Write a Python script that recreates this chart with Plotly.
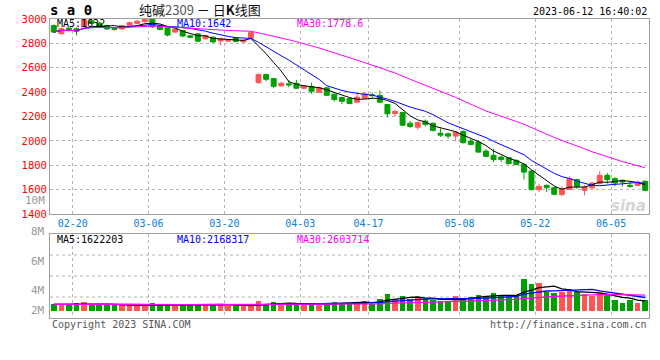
import plotly.graph_objects as go
import pandas as pd

# ---------------- data ----------------
dates = ["02-16", "02-17", "02-20", "02-21", "02-22", "02-23", "02-24", "02-27", "02-28",
         "03-01", "03-02", "03-03", "03-06", "03-07", "03-08", "03-09", "03-10",
         "03-13", "03-14", "03-15", "03-16", "03-17", "03-20", "03-21", "03-22", "03-23", "03-24",
         "03-27", "03-28", "03-29", "03-30", "03-31", "04-03", "04-04", "04-06", "04-07",
         "04-10", "04-11", "04-12", "04-13", "04-14", "04-17", "04-18", "04-19", "04-20", "04-21",
         "04-24", "04-25", "04-26", "04-27", "04-28", "05-04", "05-05",
         "05-08", "05-09", "05-10", "05-11", "05-12", "05-15", "05-16", "05-17", "05-18", "05-19",
         "05-22", "05-23", "05-24", "05-25", "05-26", "05-29", "05-30", "05-31", "06-01", "06-02",
         "06-05", "06-06", "06-07", "06-08", "06-09", "06-12"]

opens = [2946, 2880, 2925, 2920, 2935, 2985, 2968, 2945, 2925, 2918, 2945, 2965, 2978, 2998, 2945, 2928,
         2893, 2906, 2862, 2878, 2838, 2851, 2820, 2818, 2848, 2812, 2842, 2478, 2544, 2511, 2451, 2468,
         2473, 2432, 2446, 2399, 2435, 2383, 2356, 2347, 2317, 2350, 2378, 2372, 2298, 2225, 2233, 2145,
         2112, 2162, 2145, 2063, 2058, 2039, 2077, 1998, 1990, 1916, 1881, 1867, 1862, 1840, 1807, 1752,
         1600, 1635, 1616, 1559, 1602, 1682, 1594, 1616, 1649, 1717, 1690, 1676, 1635, 1635, 1668]
highs = [2955, 2928, 2933, 2932, 3000, 3012, 2975, 2950, 2932, 2952, 2978, 2990, 3006, 3004, 2952, 2932,
         2925, 2912, 2868, 2882, 2870, 2856, 2846, 2836, 2852, 2832, 2896, 2554, 2552, 2515, 2484, 2500,
         2500, 2454, 2478, 2446, 2440, 2388, 2360, 2356, 2386, 2402, 2397, 2413, 2302, 2257, 2238, 2162,
         2159, 2175, 2150, 2102, 2069, 2077, 2085, 2017, 2004, 1930, 1936, 1881, 1868, 1848, 1815, 1762,
         1649, 1643, 1623, 1627, 1709, 1690, 1635, 1662, 1752, 1736, 1701, 1684, 1668, 1674, 1676]
lows = [2885, 2870, 2897, 2865, 2928, 2958, 2925, 2912, 2905, 2912, 2938, 2958, 2972, 2928, 2906, 2858,
        2885, 2850, 2842, 2810, 2830, 2805, 2785, 2810, 2808, 2806, 2836, 2468, 2489, 2432, 2448, 2440,
        2427, 2423, 2386, 2396, 2369, 2323, 2301, 2301, 2315, 2345, 2353, 2315, 2194, 2200, 2121, 2107,
        2094, 2118, 2077, 2031, 2017, 1998, 1979, 1963, 1901, 1864, 1826, 1826, 1807, 1799, 1684, 1594,
        1580, 1580, 1553, 1548, 1598, 1608, 1553, 1600, 1643, 1649, 1627, 1627, 1616, 1627, 1588]
closes = [2893, 2920, 2905, 2900, 2995, 2965, 2935, 2918, 2915, 2945, 2970, 2982, 2995, 2935, 2915, 2868,
          2918, 2860, 2850, 2818, 2864, 2812, 2838, 2830, 2815, 2826, 2890, 2544, 2505, 2448, 2473, 2460,
          2432, 2448, 2407, 2435, 2374, 2339, 2325, 2306, 2358, 2386, 2372, 2317, 2222, 2241, 2129, 2118,
          2151, 2135, 2085, 2047, 2039, 2072, 1985, 1971, 1908, 1873, 1846, 1848, 1813, 1807, 1744, 1600,
          1627, 1616, 1562, 1608, 1690, 1627, 1621, 1654, 1717, 1682, 1654, 1662, 1627, 1662, 1594]
# volume in millions
volumes = [1.06, 1.06, 1.06, 1.28, 1.44, 0.94, 0.94, 0.94, 0.94, 0.94,
           0.94, 0.78, 0.78, 1.28, 0.89, 1.11, 0.89, 0.89, 1.11, 1.11,
           0.89, 1.11, 1.11, 0.78, 0.78, 0.78, 0.78, 1.61, 1.11, 1.44,
           0.89, 1.28, 1.28, 0.89, 1.28, 0.89, 1.28, 1.44, 1.28, 1.28,
           1.44, 1.61, 1.11, 1.94, 2.78, 1.94, 2.44, 1.94, 2.28, 1.94,
           1.78, 1.56, 1.61, 2.44, 2.11, 2.28, 2.61, 2.44, 2.94, 2.44,
           2.28, 2.61, 5.28, 4.44, 4.61, 3.11, 2.94, 3.11, 3.61, 3.11,
           2.78, 2.44, 2.94, 2.61, 1.70, 1.35, 1.85, 1.35, 1.85]

tick_dates = ["02-20", "03-06", "03-20", "04-03", "04-17", "05-08", "05-22", "06-05"]
price_ticks = [1400, 1600, 1800, 2000, 2200, 2400, 2600, 2800, 3000]
vol_labels = ["10M", "8M", "6M", "4M", "2M"]

title_text = "纯碱<span style='color:#555555'>2309</span> － 日<b>K</b>线图"
symbol_text = "<b>s a 0</b>"
stamp_text = "2023-06-12 16:40:02"
price_ma_text = ["MA5:1632", "MA10:1642", "MA30:1778.6"]
vol_ma_text = ["MA5:1622203", "MA10:2168317", "MA30:2603714"]

# ---------------- styling ----------------
RED = "#ff5555"
GREEN = "#00a000"
MA_COLORS = ["#000000", "#0000ff", "#ff00ff"]
MONO = "DejaVu Sans Mono"
BORDER = "#a0a0a0"
GRID = "#b4b4b4"

x = list(range(len(dates)))
tickvals = [dates.index(d) + 0.5 for d in tick_dates]

cs = pd.Series(closes)
vs = pd.Series(volumes)
price_mas = [cs.rolling(n, min_periods=1).mean() for n in (5, 10, 30)]
vol_mas = [vs.rolling(n, min_periods=1).mean() for n in (5, 10, 30)]
bar_colors = [RED if c >= o else GREEN for o, c in zip(opens, closes)]

fig = go.Figure()
fig.add_trace(go.Candlestick(
    x=x, open=opens, high=highs, low=lows, close=closes,
    increasing=dict(line=dict(color=RED, width=1), fillcolor=RED),
    decreasing=dict(line=dict(color=GREEN, width=1), fillcolor=GREEN),
    showlegend=False, hoverinfo="skip", xaxis="x", yaxis="y"))
for ma, col in zip(price_mas, MA_COLORS):
    fig.add_trace(go.Scatter(x=x, y=ma, mode="lines", line=dict(color=col, width=1),
                             showlegend=False, hoverinfo="skip", xaxis="x", yaxis="y"))

fig.add_trace(go.Bar(x=x, y=volumes, marker=dict(color=bar_colors, line=dict(width=0)),
                     width=0.74, showlegend=False, hoverinfo="skip", xaxis="x2", yaxis="y2"))
for ma, col in zip(vol_mas, MA_COLORS):
    fig.add_trace(go.Scatter(x=x, y=ma, mode="lines", line=dict(color=col, width=1.3),
                             showlegend=False, hoverinfo="skip", xaxis="x2", yaxis="y2"))

# geometry (page pixels; the body margin is removed by the post script)
W, H = 660, 360
PL, PR, PT, PB = 50, 649, 19, 318          # plot area
L, R, T, B = PL, W - PR, PT, H - PB
ph = PB - PT
pw = PR - PL


def py(ypix):
    return (PB - ypix) / ph


def px(xpix):
    return (xpix - PL) / pw


axis_common = dict(showline=True, mirror=True, linecolor=BORDER, linewidth=1,
                   zeroline=False, ticks="", fixedrange=True)

fig.update_layout(
    width=W, height=H,
    margin=dict(l=L, r=R, t=T, b=B, autoexpand=False),
    paper_bgcolor="white", plot_bgcolor="white",
    bargap=0, boxgap=0.35, boxgroupgap=0,
    xaxis=dict(domain=[0, 1], anchor="y", range=[-0.5, len(dates) - 0.5],
               tickmode="array", tickvals=tickvals, ticktext=tick_dates,
               tickfont=dict(family=MONO, size=10, color="#0a80e0"),
               showgrid=True, gridcolor=GRID, griddash="dot", gridwidth=1,
               rangeslider=dict(visible=False), **axis_common),
    yaxis=dict(domain=[py(214), 1], anchor="x", range=[1400, 3000],
               tickmode="array", tickvals=price_ticks,
               tickfont=dict(family=MONO, size=10.5, color="#ff0000"),
               showgrid=True, gridcolor=GRID, griddash="dot", gridwidth=1,
               **axis_common),
    xaxis2=dict(domain=[0, 1], anchor="y2", matches="x", range=[-0.5, len(dates) - 0.5],
                tickmode="array", tickvals=tickvals, showticklabels=False,
                showgrid=True, gridcolor=GRID, griddash="dot", gridwidth=1,
                **axis_common),
    yaxis2=dict(domain=[0, py(234)], anchor="x2", range=[-1.22, 12.78],
                showticklabels=False, showgrid=False, **axis_common),
)

# volume panel dotted gridlines
for f in (0.25, 0.5, 0.75):
    fig.add_shape(type="line", xref="x2 domain", yref="y2 domain", x0=0, x1=1, y0=f, y1=f,
                  line=dict(color=GRID, width=1, dash="dot"), layer="below")

ann = []
# header
ann.append(dict(text=symbol_text, x=px(48), y=py(10.5), xanchor="left", yanchor="middle",
                font=dict(family=MONO, size=14, color="#000000")))
ann.append(dict(text=title_text, x=px(200), y=py(9.5), xanchor="center", yanchor="middle",
                font=dict(family="Noto Sans CJK SC", size=13, color="#111111")))
ann.append(dict(text=stamp_text, x=px(649), y=py(11), xanchor="right", yanchor="middle",
                font=dict(family=MONO, size=10, color="#000000")))
# MA legends
for t, xp, col in zip(price_ma_text, (55, 175, 295), MA_COLORS):
    ann.append(dict(text=t, x=px(xp), y=py(23.5), xanchor="left", yanchor="middle",
                    font=dict(family=MONO, size=10, color=col)))
for t, xp, col in zip(vol_ma_text, (55, 175, 295), MA_COLORS):
    ann.append(dict(text=t, x=px(xp), y=py(239), xanchor="left", yanchor="middle",
                    font=dict(family=MONO, size=10, color=col)))
# volume scale labels
for t, yp in zip(vol_labels, (200.7, 231, 261, 290, 310)):
    ann.append(dict(text=t, x=px(47), y=py(yp), xanchor="right", yanchor="middle",
                    font=dict(family=MONO, size=11, color="#999999")))
# footer
ann.append(dict(text="Copyright 2023 SINA.COM", x=px(50), y=py(324), xanchor="left", yanchor="middle",
                font=dict(family=MONO, size=10, color="#555555")))
ann.append(dict(text="http://finance.sina.com.cn", x=px(649), y=py(324), xanchor="right", yanchor="middle",
                font=dict(family=MONO, size=10, color="#555555")))
# watermark
ann.append(dict(text="<b><i>sina</i></b>", x=px(628), y=py(206), xanchor="center", yanchor="middle",
                font=dict(family="DejaVu Sans", size=15, color="#d4d4d4")))

for a in ann:
    a.update(xref="paper", yref="paper", showarrow=False)
fig.update_layout(annotations=ann)

fig.write_html("out.html",
               config={"displayModeBar": False, "staticPlot": True},
               post_script="document.body.style.margin='0';document.body.style.overflow='hidden';")
